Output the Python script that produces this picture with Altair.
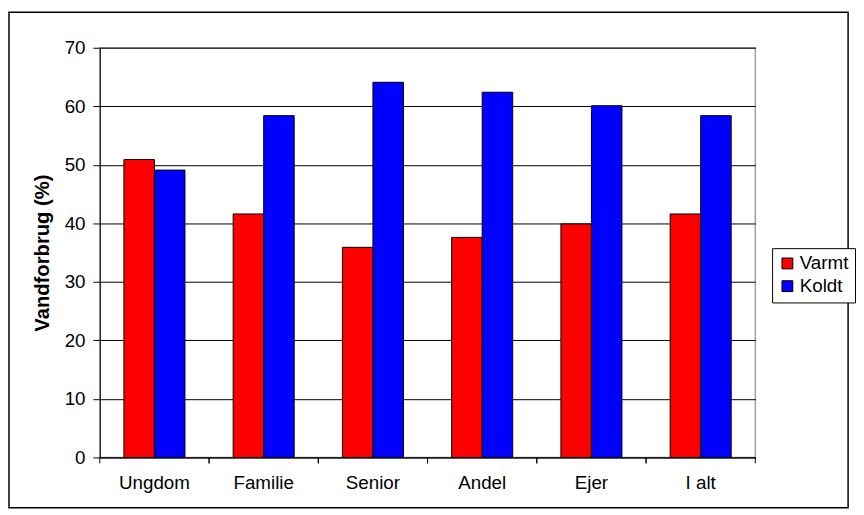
import altair as alt
import pandas as pd

categories = ["Ungdom", "Familie", "Senior", "Andel", "Ejer", "I alt"]
series_names = ["Varmt", "Koldt"]
varmt = [50.9, 41.6, 35.9, 37.6, 39.9, 41.6]
koldt = [49.1, 58.4, 64.1, 62.4, 60.1, 58.4]
y_ticks = [0, 10, 20, 30, 40, 50, 60, 70]
y_title = "Vandforbrug (%)"

rows = []
for c, v, k in zip(categories, varmt, koldt):
    rows.append({"cat": c, "series": "Varmt", "value": v})
    rows.append({"cat": c, "series": "Koldt", "value": k})
df = pd.DataFrame(rows)
cat_df = pd.DataFrame({"cat": categories})
frame_df = pd.DataFrame({"k": [0]})

FONT = "Liberation Sans"
W, H = 664, 415

x_axis = alt.Axis(title=None, labelFontSize=19, labelFont=FONT, labelColor="black",
                  labelAngle=0, ticks=False, domainColor="black", domainWidth=1,
                  labelPadding=16)
x_scale = alt.Scale(paddingInner=0, paddingOuter=0)

bars = alt.Chart(df).mark_bar(stroke="black", strokeWidth=1).encode(
    x=alt.X("cat:N", sort=categories, scale=x_scale, axis=x_axis),
    xOffset=alt.XOffset("series:N", sort=series_names,
                        scale=alt.Scale(paddingOuter=0.79, paddingInner=0)),
    y=alt.Y("value:Q", scale=alt.Scale(domain=[0, 70], nice=False),
            axis=alt.Axis(values=y_ticks, title=y_title, titleFont=FONT,
                          titleFontSize=20.5, titleFontWeight="bold", titleColor="black",
                          titlePadding=12, labelFont=FONT, labelFontSize=19,
                          labelColor="black", labelPadding=8, tickSize=7,
                          tickColor="black", domainColor="black", gridColor="black",
                          gridWidth=1)),
    color=alt.Color("series:N", sort=series_names,
                    scale=alt.Scale(domain=series_names, range=["#FF0000", "#0000FF"]),
                    legend=alt.Legend(title=None, orient="none", legendX=681, legendY=203,
                                      strokeColor="black", fillColor="white", padding=6,
                                      labelFont=FONT, labelFontSize=19, labelColor="black",
                                      symbolType="square", symbolSize=121,
                                      symbolStrokeColor="black", symbolStrokeWidth=1,
                                      labelOffset=3, rowPadding=3, cornerRadius=0)),
)

ticks_left = alt.Chart(cat_df).mark_rule(color="black", strokeWidth=1).encode(
    x=alt.X("cat:N", sort=categories, scale=x_scale, axis=x_axis, bandPosition=0),
    y=alt.value(H), y2=alt.value(H + 6),
)
ticks_right = alt.Chart(cat_df).mark_rule(color="black", strokeWidth=1).encode(
    x=alt.X("cat:N", sort=categories, scale=x_scale, axis=x_axis, bandPosition=1),
    y=alt.value(H), y2=alt.value(H + 6),
)

frame = alt.Chart(frame_df).mark_rect(filled=False, stroke="black", strokeWidth=1.5).encode(
    x=alt.value(-92), x2=alt.value(758), y=alt.value(-36), y2=alt.value(466)
)

chart = alt.layer(bars, ticks_left, ticks_right, frame).properties(
    width=W, height=H, padding=0, background="white"
).configure_view(stroke="#a0a0a0", strokeWidth=1.5)

chart.save("out.html", embed_options={"renderer": "svg", "actions": False})
